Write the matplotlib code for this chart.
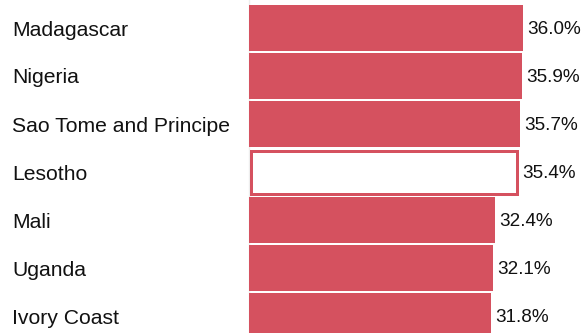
import numpy as np
import matplotlib
matplotlib.use("Agg")
from matplotlib import pyplot as plt

plt.rcParams['font.family'] = ['Liberation Sans', 'DejaVu Sans']

countries = ['Madagascar', 'Nigeria', 'Sao Tome and Principe', 'Lesotho',
             'Mali', 'Uganda', 'Ivory Coast']
values = [36.0, 35.9, 35.7, 35.4, 32.4, 32.1, 31.8]
highlight = 'Lesotho'

red = '#d5515f'
row_px = 48     # pixel pitch of one bar row
px_per_pct = 7.6
border_px = 3

fig = plt.figure(figsize=(5.82, 3.33), dpi=100)
ax = fig.add_axes([249 / 582, 0, 1 - 249 / 582, 1])

y = np.arange(len(countries))
for yi, name, val in zip(y, countries, values):
    if name == highlight:
        # outlined bar, stroke kept inside the normal bar footprint
        inset = border_px / 2 / px_per_pct
        ax.barh(yi, val - 2 * inset, height=(46 - border_px) / row_px,
                left=inset, color='white', edgecolor=red,
                linewidth=border_px * 0.72, zorder=3)
    else:
        ax.barh(yi, val, height=46 / row_px, left=0, color=red,
                linewidth=0, zorder=3)
    ax.text(val + 0.55, yi + 6.5 / row_px, f'{val:.1f}%', va='baseline',
            ha='left', fontsize=13.6, color='#111111')
    # country names sit in the left margin, outside the axes
    fig.text(12 / 582, 1 - (28 + row_px * yi + 7.5) / 333, name,
             va='baseline', ha='left', fontsize=15.2, color='#111111')

ax.set_xlim(0, 333 / px_per_pct)
ax.set_ylim((333 - 28) / row_px, -28 / row_px)
ax.set_xticks([])
ax.set_yticks([])
for side in ['top', 'right', 'bottom']:
    ax.spines[side].set_visible(False)
ax.spines['left'].set_color('#eeeeee')
ax.spines['left'].set_linewidth(1)
ax.spines['left'].set_zorder(1)

fig.savefig('out.png', dpi=100)
